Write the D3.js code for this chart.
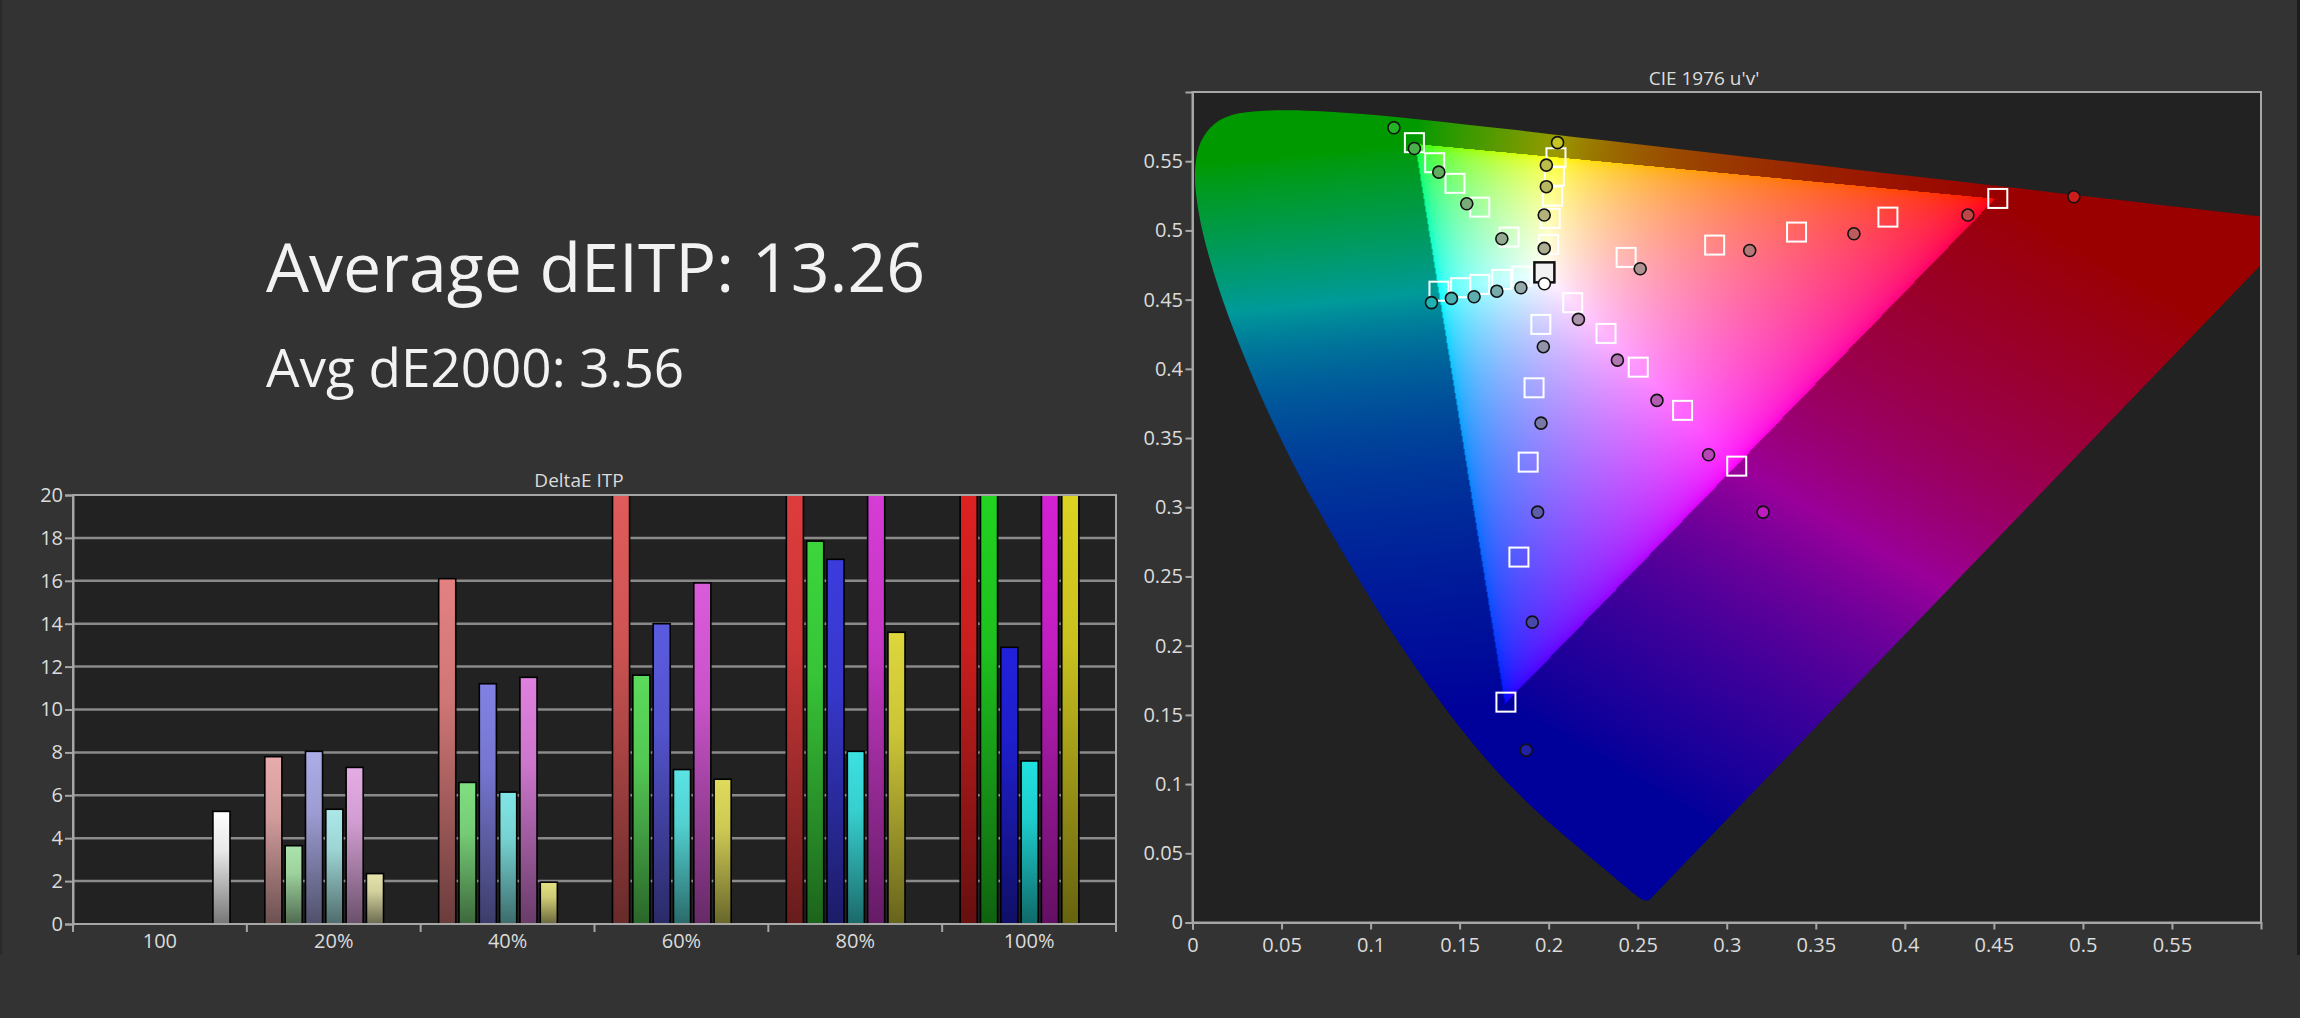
<!DOCTYPE html>
<html>
<head>
    <meta charset="utf-8">
    <title>DeltaE ITP / CIE 1976 u'v'</title>
    <script src="https://d3js.org/d3.v7.min.js"></script>
    <style>
        body { margin: 0; background: #333333; }
        text { font-family: "Open Sans", "Noto Sans", sans-serif; }
    </style>
</head>
<body>
    <script>
        // ---- bar chart data (DeltaE ITP) ----
        const categories = ['100', '20%', '40%', '60%', '80%', '100%']
        const seriesNames = ['Red', 'Green', 'Blue', 'Cyan', 'Magenta', 'Yellow']
        const whiteValue = 5.25                               // the single "100" (white) bar
        // values for 20%, 40%, 60%, 80%, 100% (bars over 20 are cut at the top of the chart)
        const redValues = [7.8, 16.1, 21.5, 25, 31]
        const greenValues = [3.65, 6.6, 11.6, 17.85, 30]
        const blueValues = [8.05, 11.2, 14.0, 17.0, 12.9]
        const cyanValues = [5.35, 6.15, 7.2, 8.05, 7.6]
        const magentaValues = [7.3, 11.5, 15.9, 22.5, 28]
        const yellowValues = [2.35, 1.95, 6.75, 13.6, 27]
        const yTicks = [0, 2, 4, 6, 8, 10, 12, 14, 16, 18, 20]

        const avgITP = '13.26'
        const avgDE2000 = '3.56'

        // ---- CIE 1976 u'v' data, 20% .. 100% saturation ----
        const targetRed = [[0.2435, 0.4805], [0.2932, 0.4894], [0.3392, 0.4988], [0.3905, 0.5096], [0.4522, 0.5231]]
        const measRed = [[0.2514, 0.4723], [0.3129, 0.4855], [0.3714, 0.4976], [0.4354, 0.5111], [0.4949, 0.5243]]
        const targetGreen = [[0.1778, 0.4952], [0.1613, 0.5168], [0.1474, 0.5340], [0.1360, 0.5489], [0.1246, 0.5634]]
        const measGreen = [[0.1737, 0.4940], [0.1540, 0.5193], [0.1383, 0.5421], [0.1246, 0.5592], [0.1131, 0.5742]]
        const targetBlue = [[0.1956, 0.4321], [0.1918, 0.3863], [0.1885, 0.3326], [0.1833, 0.2640], [0.1760, 0.1592]]
        const measBlue = [[0.1970, 0.4160], [0.1957, 0.3608], [0.1938, 0.2965], [0.1908, 0.2170], [0.1874, 0.1245]]
        const targetCyan = [[0.1850, 0.4670], [0.1737, 0.4646], [0.1613, 0.4610], [0.1506, 0.4586], [0.1384, 0.4561]]
        const measCyan = [[0.1844, 0.4586], [0.1709, 0.4561], [0.1581, 0.4521], [0.1454, 0.4509], [0.1342, 0.4478]]
        const targetMagenta = [[0.2135, 0.4478], [0.2322, 0.4256], [0.2503, 0.4012], [0.2752, 0.3700], [0.3056, 0.3297]]
        const measMagenta = [[0.2167, 0.4357], [0.2386, 0.4063], [0.2608, 0.3772], [0.2898, 0.3379], [0.3204, 0.2965]]
        const targetYellow = [[0.2000, 0.4899], [0.2009, 0.5087], [0.2022, 0.5248], [0.2032, 0.5392], [0.2041, 0.5525]]
        const measYellow = [[0.1975, 0.4870], [0.1975, 0.5111], [0.1987, 0.5316], [0.1987, 0.5472], [0.2050, 0.5634]]
        const targetWhite = [0.1976, 0.4697]
        const measWhite = [0.1976, 0.4615]
        const uvTicks = [0, 0.05, 0.1, 0.15, 0.2, 0.25, 0.3, 0.35, 0.4, 0.45, 0.5, 0.55]

        // Rec.709 primaries in u'v' (R, G, B): the bright triangle
        const rec709Primaries = [[0.4507, 0.5229], [0.1250, 0.5625], [0.1754, 0.1579]]

        // CIE 1931 2 deg spectral locus (x, y), 380..700 nm
        const spectralLocusXY = [
            [0.1741, 0.0050], [0.1738, 0.0049], [0.1733, 0.0048], [0.1726, 0.0048], [0.1714, 0.0051],
            [0.1703, 0.0058], [0.1689, 0.0069], [0.1669, 0.0086], [0.1644, 0.0109], [0.1611, 0.0138],
            [0.1566, 0.0177], [0.1510, 0.0227], [0.1440, 0.0297], [0.1355, 0.0399], [0.1241, 0.0578],
            [0.1096, 0.0868], [0.0913, 0.1327], [0.0687, 0.2007], [0.0454, 0.2950], [0.0235, 0.4127],
            [0.0082, 0.5384], [0.0039, 0.6548], [0.0139, 0.7502], [0.0389, 0.8120], [0.0743, 0.8338],
            [0.1142, 0.8262], [0.1547, 0.8059], [0.1929, 0.7816], [0.2296, 0.7543], [0.2658, 0.7243],
            [0.3016, 0.6923], [0.3373, 0.6589], [0.3731, 0.6245], [0.4087, 0.5896], [0.4441, 0.5547],
            [0.4788, 0.5202], [0.5125, 0.4866], [0.5448, 0.4544], [0.5752, 0.4242], [0.6029, 0.3965],
            [0.6270, 0.3725], [0.6482, 0.3514], [0.6658, 0.3340], [0.6801, 0.3197], [0.6915, 0.3083],
            [0.7006, 0.2993], [0.7079, 0.2920], [0.7140, 0.2859], [0.7190, 0.2809], [0.7230, 0.2770],
            [0.7260, 0.2740], [0.7300, 0.2700], [0.7320, 0.2680], [0.7347, 0.2653]
        ]

        const svg = d3.select('body').append('svg')
            .attr('width', 2300)
            .attr('height', 1018)

        svg.append('rect').attr('width', 2300).attr('height', 1018).attr('fill', '#333333')
        svg.append('rect').attr('x', 0).attr('width', 2).attr('height', 955).attr('fill', '#2a2a2a')
        svg.append('rect').attr('x', 2297).attr('width', 3).attr('height', 955).attr('fill', '#1c1c1c')

        // big averages
        svg.append('text')
            .attr('x', 266).attr('y', 292)
            .attr('font-size', '68px').attr('fill', '#f2f2f2')
            .text('Average dEITP: ' + avgITP)
        svg.append('text')
            .attr('x', 266).attr('y', 387)
            .attr('font-size', '53px').attr('fill', '#f2f2f2')
            .text('Avg dE2000: ' + avgDE2000)

        // =================== DeltaE ITP bars ===================
        const barX = d3.scaleBand().domain(categories).range([73, 1116])
        const slot = d3.scaleBand().domain(d3.range(7)).range([18, 157]).paddingInner(0.16)
        const barY = d3.scaleLinear().domain([0, 20]).range([924, 495])

        const seriesValues = [redValues, greenValues, blueValues, cyanValues, magentaValues, yellowValues]
        const hueColors = ['#c81414', '#14c014', '#1414c8', '#14cccc', '#c014c0', '#c8c014']
        const satMix = [0.3, 0.5, 0.68, 0.82, 0.95]

        let bars = [{ cat: categories[0], slot: 6, value: whiteValue, color: '#e8e8e8' }]
        categories.slice(1).forEach((cat, i) => {
            seriesNames.forEach((s, k) => {
                bars.push({
                    cat: cat, slot: k, value: seriesValues[k][i],
                    color: d3.interpolateRgb('#d8d8d8', hueColors[k])(satMix[i])
                })
            })
        })

        const gBar = svg.append('g')
        gBar.append('rect')
            .attr('x', 73).attr('y', 495).attr('width', 1116 - 73).attr('height', 924 - 495)
            .attr('fill', '#222222')

        gBar.selectAll('.grid')
            .data(yTicks.slice(1, -1))
            .enter()
            .append('line')
            .attr('x1', 73).attr('x2', 1116)
            .attr('y1', d => barY(d)).attr('y2', d => barY(d))
            .attr('stroke', '#8a8a8a').attr('stroke-width', 2.5)

        const defs = svg.append('defs')
        bars.forEach((b, i) => {
            const g = defs.append('linearGradient')
                .attr('id', 'bar' + i)
                .attr('x1', 0).attr('y1', 0).attr('x2', 0).attr('y2', 1)
            g.append('stop').attr('offset', 0).attr('stop-color', d3.rgb(b.color).brighter(0.25))
            g.append('stop').attr('offset', 0.35).attr('stop-color', b.color)
            g.append('stop').attr('offset', 1).attr('stop-color', d3.rgb(b.color).darker(1.9))
        })

        gBar.selectAll('.bar')
            .data(bars)
            .enter()
            .append('rect')
            .attr('x', d => barX(d.cat) + slot(d.slot))
            .attr('y', d => barY(Math.min(d.value, 20)))
            .attr('width', slot.bandwidth())
            .attr('height', d => barY(0) - barY(Math.min(d.value, 20)))
            .attr('fill', (d, i) => 'url(#bar' + i + ')')
            .attr('stroke', '#000')
            .attr('stroke-width', 1.6)

        // frame
        gBar.append('rect')
            .attr('x', 73).attr('y', 495).attr('width', 1116 - 73).attr('height', 924 - 495)
            .attr('fill', 'none').attr('stroke', '#a6a6a6').attr('stroke-width', 2)

        const yAxis = gBar.append('g')
            .attr('transform', 'translate(73,0)')
            .call(d3.axisLeft(barY).tickValues(yTicks).tickSize(8).tickPadding(2))
        yAxis.select('.domain').attr('stroke', '#a6a6a6').attr('stroke-width', 2)
        yAxis.selectAll('line').attr('stroke', '#a6a6a6').attr('stroke-width', 2)
        yAxis.selectAll('text').attr('font-size', '20px').attr('fill', '#dcdcdc')
            .attr('font-family', '"Open Sans", sans-serif')

        // x axis: ticks sit between the groups
        const xEdges = categories.map(c => barX(c)).concat([barX.range()[1]])
        gBar.selectAll('.xtick')
            .data(xEdges)
            .enter()
            .append('line')
            .attr('x1', d => d).attr('x2', d => d)
            .attr('y1', 924).attr('y2', 932)
            .attr('stroke', '#a6a6a6').attr('stroke-width', 2)
        gBar.selectAll('.xlabel')
            .data(categories)
            .enter()
            .append('text')
            .attr('x', d => barX(d) + barX.bandwidth() / 2)
            .attr('y', 948)
            .attr('text-anchor', 'middle')
            .attr('font-size', '20px').attr('fill', '#dcdcdc')
            .text(d => d)

        svg.append('text')
            .attr('x', 579).attr('y', 487)
            .attr('text-anchor', 'middle')
            .attr('font-size', '19px').attr('fill', '#dcdcdc')
            .text('DeltaE ITP')

        // =================== CIE 1976 u'v' ===================
        const u = d3.scaleLinear().domain([0, 0.6]).range([1192.5, 2261])
        const v = d3.scaleLinear().domain([0, 0.6]).range([922.5, 92])

        const gCie = svg.append('g')
        gCie.append('rect')
            .attr('x', u(0)).attr('y', v(0.6)).attr('width', u(0.6) - u(0)).attr('height', v(0) - v(0.6))
            .attr('fill', '#222222')

        // u'v' -> linear Rec.709 rgb at Y = 1
        function uvToRgb(uu, vv) {
            const den = 6 * uu - 16 * vv + 12
            const x = 9 * uu / den, y = 4 * vv / den
            const X = x / y, Z = (1 - x - y) / y
            return [
                3.2406 * X - 1.5372 - 0.4986 * Z,
                -0.9689 * X + 1.8758 + 0.0415 * Z,
                0.0557 * X - 0.2040 + 1.0570 * Z
            ]
        }
        // nearest point on the Rec.709 triangle outline
        const triEdges = [[0, 1], [1, 2], [2, 0]].map(([a, b]) => [rec709Primaries[a], rec709Primaries[b]])
        function nearestOnTriangle(uu, vv) {
            let best = null, bestD = Infinity
            triEdges.forEach(([p, q]) => {
                const dx = q[0] - p[0], dy = q[1] - p[1]
                let t = ((uu - p[0]) * dx + (vv - p[1]) * dy) / (dx * dx + dy * dy)
                t = Math.max(0, Math.min(1, t))
                const cx = p[0] + t * dx, cy = p[1] + t * dy
                const d = (uu - cx) * (uu - cx) + (vv - cy) * (vv - cy)
                if (d < bestD) { bestD = d; best = [cx, cy] }
            })
            return best
        }

        // paint the chromaticity colours on a canvas
        const cw = Math.round(u(0.6) - u(0)), ch = Math.round(v(0) - v(0.6))
        const canvas = document.createElement('canvas')
        canvas.width = cw
        canvas.height = ch
        const ctx = canvas.getContext('2d')
        const img = ctx.createImageData(cw, ch)
        const enc = c => c <= 0.0031308 ? 12.92 * c : 1.055 * Math.pow(c, 1 / 2.4) - 0.055
        const encOut = c => Math.pow(c, 0.78)
        for (let j = 0; j < ch; j++) {
            const vv = v.invert(v(0.6) + j + 0.5)
            if (vv < 0.002) continue
            for (let i = 0; i < cw; i++) {
                const uu = u.invert(u(0) + i + 0.5)
                let rgb = uvToRgb(uu, vv)
                const inside = rgb[0] >= 0 && rgb[1] >= 0 && rgb[2] >= 0
                if (!inside) {
                    const e = nearestOnTriangle(uu, vv)
                    rgb = uvToRgb(e[0], e[1])
                }
                const r = Math.max(rgb[0], 0), g = Math.max(rgb[1], 0), b = Math.max(rgb[2], 0)
                const m = Math.max(r, g, b) || 1
                const f = inside ? enc : encOut
                const k = inside ? 255 : 154
                const p = (j * cw + i) * 4
                img.data[p] = f(r / m) * k
                img.data[p + 1] = f(g / m) * k
                img.data[p + 2] = f(b / m) * k
                img.data[p + 3] = 255
            }
        }
        ctx.putImageData(img, 0, 0)

        const locusUV = spectralLocusXY.map(([x, y]) => {
            const den = -2 * x + 12 * y + 3
            return [4 * x / den, 9 * y / den]
        })
        const locusLine = d3.line().x(d => u(d[0])).y(d => v(d[1])).curve(d3.curveCatmullRom)

        defs.append('clipPath').attr('id', 'plotClip')
            .append('rect')
            .attr('x', u(0)).attr('y', v(0.6)).attr('width', u(0.6) - u(0)).attr('height', v(0) - v(0.6))
        defs.append('clipPath').attr('id', 'locusClip')
            .append('path')
            .attr('d', locusLine(locusUV) + 'Z')

        gCie.append('g')
            .attr('clip-path', 'url(#plotClip)')
            .append('image')
            .attr('x', u(0)).attr('y', v(0.6))
            .attr('width', cw).attr('height', ch)
            .attr('href', canvas.toDataURL())
            .attr('clip-path', 'url(#locusClip)')

        // targets (squares) then measurements (circles)
        const targets = [targetRed, targetGreen, targetBlue, targetCyan, targetMagenta, targetYellow]
        const measured = [measRed, measGreen, measBlue, measCyan, measMagenta, measYellow]
        const dotHues = ['#d01010', '#18b418', '#1414a8', '#12b4b4', '#c010c0', '#c8c818']
        const dotMix = [0.15, 0.32, 0.5, 0.65, 0.92]

        const sq = 19
        gCie.selectAll('.target')
            .data(targets.flat())
            .enter()
            .append('rect')
            .attr('x', d => u(d[0]) - sq / 2)
            .attr('y', d => v(d[1]) - sq / 2)
            .attr('width', sq).attr('height', sq)
            .attr('fill', 'none')
            .attr('stroke', '#ffffff')
            .attr('stroke-width', 2)
        gCie.append('rect')
            .attr('x', u(targetWhite[0]) - 10).attr('y', v(targetWhite[1]) - 10)
            .attr('width', 20).attr('height', 20)
            .attr('fill', '#f2f2f2').attr('stroke', '#111').attr('stroke-width', 2.5)

        let dots = []
        measured.forEach((list, k) => {
            list.forEach((p, i) => {
                dots.push({ p: p, color: d3.interpolateRgb('#a8a8a8', dotHues[k])(dotMix[i]) })
            })
        })
        dots.push({ p: measWhite, color: '#ffffff' })

        gCie.selectAll('.meas')
            .data(dots)
            .enter()
            .append('circle')
            .attr('cx', d => u(d.p[0]))
            .attr('cy', d => v(d.p[1]))
            .attr('r', 6)
            .attr('fill', d => d.color)
            .attr('stroke', '#111')
            .attr('stroke-width', 1.6)

        gCie.append('rect')
            .attr('x', u(0)).attr('y', v(0.6)).attr('width', u(0.6) - u(0)).attr('height', v(0) - v(0.6))
            .attr('fill', 'none').attr('stroke', '#a6a6a6').attr('stroke-width', 2)

        const fmt = d => String(+d.toFixed(2))
        const uAxis = gCie.append('g')
            .attr('transform', 'translate(0,' + v(0) + ')')
            .call(d3.axisBottom(u).tickValues(uvTicks).tickFormat(fmt).tickSize(7).tickPadding(8))
        const vAxis = gCie.append('g')
            .attr('transform', 'translate(' + u(0) + ',0)')
            .call(d3.axisLeft(v).tickValues(uvTicks).tickFormat(fmt).tickSize(7).tickPadding(2.5))
        ;[uAxis, vAxis].forEach(a => {
            a.select('.domain').attr('stroke', '#a6a6a6').attr('stroke-width', 2)
            a.selectAll('line').attr('stroke', '#a6a6a6').attr('stroke-width', 2)
            a.selectAll('text').attr('font-size', '20px').attr('fill', '#dcdcdc')
                .attr('font-family', '"Open Sans", sans-serif')
        })

        svg.append('text')
            .attr('x', 1704).attr('y', 85)
            .attr('text-anchor', 'middle')
            .attr('font-size', '19px').attr('fill', '#dcdcdc')
            .text("CIE 1976 u'v'")
    </script>
</body>
</html>
